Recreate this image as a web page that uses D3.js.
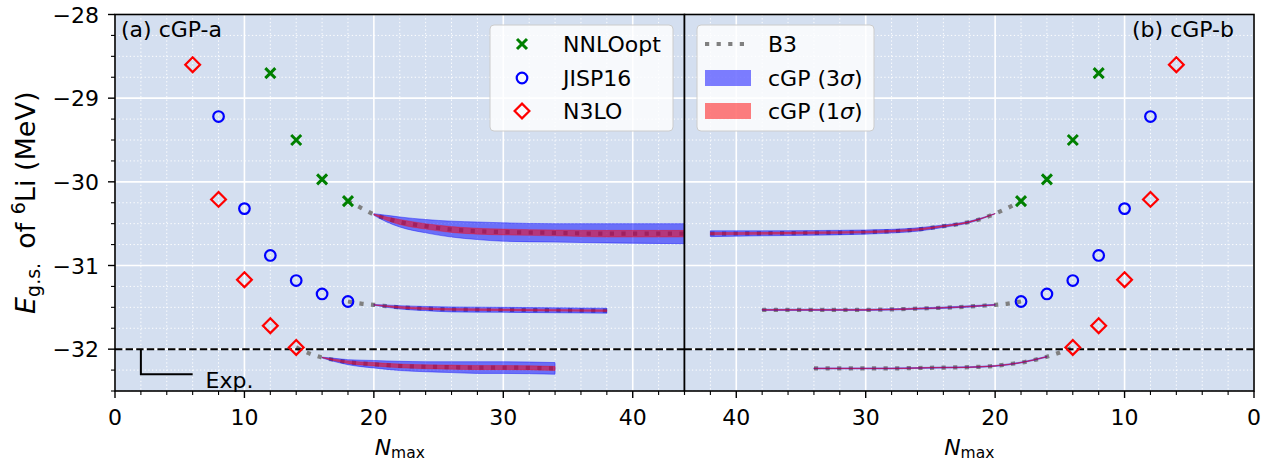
<!DOCTYPE html>
<html>
<head>
<meta charset="utf-8">
<style>
  body { margin: 0; background: #fff; }
  svg text { font-family: "DejaVu Sans", sans-serif; fill: #000; }
</style>
</head>
<body>
<div id="chart"></div>
<script src="https://d3js.org/d3.v7.min.js"></script>
<script>
// ---- data ----
// raw calculations (same in both panels)
const nnloN = [12, 14, 16, 18];
const nnloE = [-28.70, -29.50, -29.97, -30.23];
const jispN = [8, 10, 12, 14, 16, 18];
const jispE = [-29.22, -30.32, -30.88, -31.18, -31.34, -31.43];
const n3loN = [6, 8, 10, 12, 14];
const n3loE = [-28.60, -30.21, -31.17, -31.72, -31.98];

// (a) cGP-a : B3 extrapolation curves
const aNnloB3N = [18, 19, 20, 21, 22, 24, 26, 28, 30, 34, 38, 44];
const aNnloB3E = [-30.23, -30.31, -30.39, -30.44, -30.48, -30.53, -30.57, -30.59, -30.60, -30.61, -30.62, -30.62];
const aJispB3N = [18, 19, 20, 22, 24, 26, 30, 34, 38];
const aJispB3E = [-31.43, -31.455, -31.47, -31.50, -31.515, -31.525, -31.53, -31.535, -31.54];
const aN3loB3N = [14, 15, 16, 17, 18, 20, 22, 24, 26, 28, 30, 34];
const aN3loB3E = [-31.98, -32.05, -32.10, -32.13, -32.155, -32.18, -32.20, -32.21, -32.215, -32.22, -32.22, -32.23];

// (a) cGP-a : bands (lo/hi for 3 sigma and 1 sigma)
const aNnloBandN = [20, 21, 22, 24, 26, 28, 30, 34, 38, 44];
const aNnloHi3 = [-30.38, -30.40, -30.42, -30.45, -30.47, -30.48, -30.49, -30.50, -30.50, -30.50];
const aNnloLo3 = [-30.40, -30.48, -30.54, -30.61, -30.66, -30.69, -30.71, -30.72, -30.73, -30.74];
const aNnloHi1 = [-30.385, -30.42, -30.45, -30.50, -30.535, -30.555, -30.565, -30.575, -30.58, -30.58];
const aNnloLo1 = [-30.395, -30.46, -30.51, -30.565, -30.605, -30.625, -30.635, -30.645, -30.66, -30.66];

const aJispBandN = [20, 22, 24, 26, 30, 34, 38];
const aJispHi3 = [-31.465, -31.48, -31.49, -31.495, -31.50, -31.505, -31.51];
const aJispLo3 = [-31.475, -31.52, -31.54, -31.555, -31.56, -31.565, -31.57];
const aJispHi1 = [-31.468, -31.49, -31.505, -31.515, -31.52, -31.525, -31.53];
const aJispLo1 = [-31.472, -31.51, -31.525, -31.535, -31.54, -31.545, -31.55];

const aN3loBandN = [16, 17, 18, 20, 22, 24, 26, 28, 30, 34];
const aN3loHi3 = [-32.095, -32.11, -32.125, -32.135, -32.145, -32.15, -32.15, -32.15, -32.15, -32.16];
const aN3loLo3 = [-32.105, -32.15, -32.185, -32.225, -32.255, -32.27, -32.28, -32.29, -32.29, -32.30];
const aN3loHi1 = [-32.098, -32.12, -32.14, -32.16, -32.178, -32.187, -32.19, -32.195, -32.195, -32.205];
const aN3loLo1 = [-32.102, -32.14, -32.17, -32.20, -32.222, -32.233, -32.24, -32.245, -32.245, -32.255];

// (b) cGP-b : B3 curves
const bNnloB3N = [18, 19, 20, 21, 22, 23, 24, 26, 28, 30, 34, 38, 42];
const bNnloB3E = [-30.23, -30.31, -30.38, -30.44, -30.48, -30.51, -30.53, -30.57, -30.59, -30.60, -30.61, -30.615, -30.62];
const bJispB3N = [18, 19, 20, 22, 24, 26, 28, 30, 34, 38];
const bJispB3E = [-31.43, -31.455, -31.47, -31.49, -31.505, -31.515, -31.525, -31.53, -31.53, -31.53];
const bN3loB3N = [14, 15, 16, 17, 18, 19, 20, 22, 24, 26, 28, 30, 34];
const bN3loB3E = [-31.98, -32.04, -32.09, -32.13, -32.16, -32.18, -32.20, -32.215, -32.22, -32.225, -32.23, -32.23, -32.23];

// (b) cGP-b : bands
const bNnloBandN = [20, 22, 24, 26, 28, 30, 34, 38, 42];
const bNnloHi3 = [-30.378, -30.47, -30.515, -30.55, -30.568, -30.575, -30.582, -30.585, -30.585];
const bNnloLo3 = [-30.382, -30.49, -30.545, -30.59, -30.612, -30.625, -30.638, -30.645, -30.655];
const bNnloHi1 = [-30.379, -30.475, -30.523, -30.56, -30.58, -30.59, -30.598, -30.603, -30.607];
const bNnloLo1 = [-30.381, -30.485, -30.537, -30.58, -30.60, -30.61, -30.622, -30.627, -30.633];

const bJispBandN = [20, 22, 24, 26, 28, 30, 34, 38];
const bJispHi3 = [-31.464, -31.482, -31.497, -31.507, -31.517, -31.522, -31.522, -31.522];
const bJispLo3 = [-31.476, -31.498, -31.513, -31.523, -31.533, -31.538, -31.538, -31.538];
const bJispHi1 = [-31.468, -31.486, -31.501, -31.511, -31.521, -31.526, -31.526, -31.526];
const bJispLo1 = [-31.472, -31.494, -31.509, -31.519, -31.529, -31.534, -31.534, -31.534];

const bN3loBandN = [16, 18, 20, 22, 24, 26, 28, 30, 34];
const bN3loHi3 = [-32.084, -32.154, -32.194, -32.209, -32.214, -32.219, -32.224, -32.224, -32.224];
const bN3loLo3 = [-32.096, -32.166, -32.206, -32.221, -32.226, -32.231, -32.236, -32.236, -32.236];
const bN3loHi1 = [-32.087, -32.157, -32.197, -32.212, -32.217, -32.222, -32.227, -32.227, -32.227];
const bN3loLo1 = [-32.093, -32.163, -32.203, -32.218, -32.223, -32.228, -32.233, -32.233, -32.233];

const expE = -32.0;  // experimental value
const xTicks = [0, 10, 20, 30, 40];
const yTicks = [-28, -29, -30, -31, -32];

// ---- layout ----
const W = 1286, H = 463;
const plotTop = 14.5, plotBot = 391;
const aLeft = 115, mid = 684.5, bRight = 1254;
const xMax = 44;
const fs = 22;  // base font size

const svg = d3.select("#chart").append("svg")
  .attr("width", W).attr("height", H);

const y = d3.scaleLinear().domain([-32.5, -28]).range([plotBot, plotTop]);
const xa = d3.scaleLinear().domain([0, xMax]).range([aLeft, mid]);
const xb = d3.scaleLinear().domain([xMax, 0]).range([mid, bRight]);

const bg = "#d4dff0";
const zip = (ns, es) => ns.map((n, i) => [n, es[i]]);

// marker shapes
const crossPath = "M-5,-5L5,5M-5,5L5,-5";
const diamondPath = "M0,-7.4L7.4,0L0,7.4L-7.4,0Z";
const circleR = 5.3;

function panel(x, id) {
  const g = svg.append("g");
  const [x0, x1] = x.range();
  const l = Math.min(x0, x1), r = Math.max(x0, x1);

  svg.append("clipPath").attr("id", id)
    .append("rect").attr("x", l).attr("y", plotTop).attr("width", r - l).attr("height", plotBot - plotTop);

  g.append("rect").attr("x", l).attr("y", plotTop).attr("width", r - l).attr("height", plotBot - plotTop)
    .attr("fill", bg);

  // minor grid
  const xMinor = d3.range(0, xMax + 0.1, 2).filter(v => v % 10 !== 0);
  const yMinor = d3.range(-32.5, -27.9, 0.25).filter(v => Math.abs(v - Math.round(v)) > 0.01);
  g.append("g").selectAll("line").data(xMinor).join("line")
    .attr("x1", d => x(d)).attr("x2", d => x(d)).attr("y1", plotTop).attr("y2", plotBot)
    .attr("stroke", "#fff").attr("stroke-width", 1).attr("stroke-dasharray", "1.3,2.4");
  g.append("g").selectAll("line").data(yMinor).join("line")
    .attr("y1", d => y(d)).attr("y2", d => y(d)).attr("x1", l).attr("x2", r)
    .attr("stroke", "#fff").attr("stroke-width", 1).attr("stroke-dasharray", "1.3,2.4");

  // major grid
  g.append("g").selectAll("line").data(xTicks).join("line")
    .attr("x1", d => x(d)).attr("x2", d => x(d)).attr("y1", plotTop).attr("y2", plotBot)
    .attr("stroke", "#fff").attr("stroke-width", 1.6);
  g.append("g").selectAll("line").data(yTicks).join("line")
    .attr("y1", d => y(d)).attr("y2", d => y(d)).attr("x1", l).attr("x2", r)
    .attr("stroke", "#fff").attr("stroke-width", 1.6);

  const plot = g.append("g").attr("clip-path", `url(#${id})`);

  // x ticks
  const ax = g.append("g");
  ax.selectAll(".maj").data(xTicks).join("line")
    .attr("x1", d => x(d)).attr("x2", d => x(d)).attr("y1", plotBot).attr("y2", plotBot + 7)
    .attr("stroke", "#000").attr("stroke-width", 1.4);
  ax.selectAll(".min").data(xMinor).join("line")
    .attr("x1", d => x(d)).attr("x2", d => x(d)).attr("y1", plotBot).attr("y2", plotBot + 4)
    .attr("stroke", "#000").attr("stroke-width", 1.1);
  ax.selectAll("text").data(xTicks).join("text")
    .attr("x", d => x(d)).attr("y", 425).attr("text-anchor", "middle")
    .attr("font-size", fs).text(d => d);

  // x label
  const xl = g.append("text").attr("x", (l + r) / 2).attr("y", 455)
    .attr("text-anchor", "middle").attr("font-size", fs);
  xl.append("tspan").attr("font-style", "italic").text("N");
  xl.append("tspan").attr("font-size", 15.5).attr("dy", 3).text("max");

  return { g, plot, l, r, yMinor };
}

function drawModel(p, x, b3, bands) {
  const line = d3.line()
    .x(d => x(d[0])).y(d => y(d[1]))
    .curve(d3.curveMonotoneX);
  const area = d3.area()
    .x(d => x(d[0])).y0(d => y(d[1])).y1(d => y(d[2]))
    .curve(d3.curveMonotoneX);
  const byPx = (a, b2) => x(a[0]) - x(b2[0]);

  // B3 curve (drawn below the bands, shows through them)
  p.plot.append("path").datum(b3.slice().sort(byPx))
    .attr("d", line).attr("fill", "none")
    .attr("stroke", "#808080").attr("stroke-width", 4.2)
    .attr("stroke-dasharray", "4.2,7.4");

  const s3 = bands.n.map((n, i) => [n, bands.lo3[i], bands.hi3[i]]).sort(byPx);
  const s1 = bands.n.map((n, i) => [n, bands.lo1[i], bands.hi1[i]]).sort(byPx);
  p.plot.append("path").datum(s3).attr("d", area)
    .attr("fill", "blue").attr("fill-opacity", 0.5)
    .attr("stroke", "blue").attr("stroke-opacity", 0.5).attr("stroke-width", 0.8);
  p.plot.append("path").datum(s1).attr("d", area)
    .attr("fill", "red").attr("fill-opacity", 0.5)
    .attr("stroke", "red").attr("stroke-opacity", 0.5).attr("stroke-width", 0.6);
}

function drawPoints(p, x) {
  // dashed experimental line
  p.plot.append("line")
    .attr("x1", p.l).attr("x2", p.r).attr("y1", y(expE)).attr("y2", y(expE))
    .attr("stroke", "#000").attr("stroke-width", 2).attr("stroke-dasharray", "7.4,3.2");

  const pts = p.plot.append("g");
  // N3LO diamonds
  pts.selectAll(".d").data(zip(n3loN, n3loE)).join("path")
    .attr("d", diamondPath)
    .attr("transform", d => `translate(${x(d[0])},${y(d[1])})`)
    .attr("fill", "none").attr("stroke", "red").attr("stroke-width", 2.2);
  // JISP16 circles
  pts.selectAll(".c").data(zip(jispN, jispE)).join("circle")
    .attr("cx", d => x(d[0])).attr("cy", d => y(d[1])).attr("r", circleR)
    .attr("fill", "none").attr("stroke", "blue").attr("stroke-width", 2.2);
  // NNLOopt crosses
  pts.selectAll(".x").data(zip(nnloN, nnloE)).join("path")
    .attr("d", crossPath)
    .attr("transform", d => `translate(${x(d[0])},${y(d[1])})`)
    .attr("fill", "none").attr("stroke", "green").attr("stroke-width", 3);
}

function frame(p) {
  p.g.append("rect").attr("x", p.l).attr("y", plotTop).attr("width", p.r - p.l).attr("height", plotBot - plotTop)
    .attr("fill", "none").attr("stroke", "#000").attr("stroke-width", 1.6);
}

// ---- panel (a) ----
const pa = panel(xa, "clipA");
drawModel(pa, xa, zip(aNnloB3N, aNnloB3E),
  { n: aNnloBandN, lo3: aNnloLo3, hi3: aNnloHi3, lo1: aNnloLo1, hi1: aNnloHi1 });
drawModel(pa, xa, zip(aJispB3N, aJispB3E),
  { n: aJispBandN, lo3: aJispLo3, hi3: aJispHi3, lo1: aJispLo1, hi1: aJispHi1 });
drawModel(pa, xa, zip(aN3loB3N, aN3loB3E),
  { n: aN3loBandN, lo3: aN3loLo3, hi3: aN3loHi3, lo1: aN3loLo1, hi1: aN3loHi1 });
drawPoints(pa, xa);

// Exp. marker
pa.g.append("path")
  .attr("d", `M${xa(2)},${y(-32)}L${xa(2)},${y(-32.3)}L${xa(6)},${y(-32.3)}`)
  .attr("fill", "none").attr("stroke", "#000").attr("stroke-width", 2);
pa.g.append("text").attr("x", xa(7)).attr("y", y(-32.46))
  .attr("font-size", fs).text("Exp.");
pa.g.append("text").attr("x", 121).attr("y", 37).attr("font-size", fs).text("(a) cGP-a");

// y ticks (left panel only)
const ay = svg.append("g");
ay.selectAll(".maj").data(yTicks).join("line")
  .attr("x1", aLeft - 7).attr("x2", aLeft).attr("y1", d => y(d)).attr("y2", d => y(d))
  .attr("stroke", "#000").attr("stroke-width", 1.4);
ay.selectAll(".min").data(pa.yMinor).join("line")
  .attr("x1", aLeft - 4).attr("x2", aLeft).attr("y1", d => y(d)).attr("y2", d => y(d))
  .attr("stroke", "#000").attr("stroke-width", 1.1);
ay.selectAll("text").data(yTicks).join("text")
  .attr("x", 99).attr("y", d => y(d) + 8).attr("text-anchor", "end")
  .attr("font-size", fs).text(d => "\u2212" + Math.abs(d));

// y label
const yl = svg.append("text").attr("transform", `translate(35,${(plotTop + plotBot) / 2}) rotate(-90)`)
  .attr("text-anchor", "middle").attr("font-size", 27);
yl.append("tspan").attr("font-style", "italic").text("E");
yl.append("tspan").attr("font-size", 19).attr("dy", 5).text("g.s.");
yl.append("tspan").attr("dy", -5).text("\u2009 of ");
yl.append("tspan").attr("font-size", 19).attr("dy", -10).text("6");
yl.append("tspan").attr("dy", 10).text("Li (MeV)");

// ---- panel (b) ----
const pb = panel(xb, "clipB");
drawModel(pb, xb, zip(bNnloB3N, bNnloB3E),
  { n: bNnloBandN, lo3: bNnloLo3, hi3: bNnloHi3, lo1: bNnloLo1, hi1: bNnloHi1 });
drawModel(pb, xb, zip(bJispB3N, bJispB3E),
  { n: bJispBandN, lo3: bJispLo3, hi3: bJispHi3, lo1: bJispLo1, hi1: bJispHi1 });
drawModel(pb, xb, zip(bN3loB3N, bN3loB3E),
  { n: bN3loBandN, lo3: bN3loLo3, hi3: bN3loHi3, lo1: bN3loLo1, hi1: bN3loHi1 });
drawPoints(pb, xb);
pb.g.append("text").attr("x", 1234).attr("y", 37).attr("text-anchor", "end")
  .attr("font-size", fs).text("(b) cGP-b");

frame(pa);
frame(pb);

// ---- legends ----
function legendBox(x0, w) {
  svg.append("rect").attr("x", x0).attr("y", 25).attr("width", w).attr("height", 106)
    .attr("rx", 4).attr("fill", "#fff").attr("fill-opacity", 0.8)
    .attr("stroke", "#ccc").attr("stroke-width", 1);
}
const legRows = [44, 78, 111];

legendBox(490, 183);
const l1 = svg.append("g");
l1.append("path").attr("d", crossPath)
  .attr("transform", `translate(522,${legRows[0]})`)
  .attr("stroke", "green").attr("stroke-width", 3).attr("fill", "none");
l1.append("circle").attr("cx", 522).attr("cy", legRows[1]).attr("r", circleR)
  .attr("fill", "none").attr("stroke", "blue").attr("stroke-width", 2.2);
l1.append("path").attr("d", diamondPath)
  .attr("transform", `translate(522,${legRows[2]})`)
  .attr("fill", "none").attr("stroke", "red").attr("stroke-width", 2.2);
["NNLOopt", "JISP16", "N3LO"].forEach((t, i) => {
  l1.append("text").attr("x", 563).attr("y", legRows[i] + 8).attr("font-size", fs).text(t);
});

legendBox(697, 177);
const l2 = svg.append("g");
l2.append("line").attr("x1", 705).attr("x2", 750).attr("y1", legRows[0]).attr("y2", legRows[0])
  .attr("stroke", "#808080").attr("stroke-width", 4.2).attr("stroke-dasharray", "4.2,7.4");
l2.append("rect").attr("x", 705).attr("y", legRows[1] - 8).attr("width", 46).attr("height", 16)
  .attr("fill", "blue").attr("fill-opacity", 0.5);
l2.append("rect").attr("x", 705).attr("y", legRows[2] - 8).attr("width", 46).attr("height", 16)
  .attr("fill", "red").attr("fill-opacity", 0.5);
l2.append("text").attr("x", 768).attr("y", legRows[0] + 8).attr("font-size", fs).text("B3");
[["3", 1], ["1", 2]].forEach(([k, i]) => {
  const t = l2.append("text").attr("x", 768).attr("y", legRows[i] + 8).attr("font-size", fs);
  t.append("tspan").text(`cGP (${k}`);
  t.append("tspan").attr("font-style", "italic").text("\u03c3");
  t.append("tspan").text(")");
});
</script>
</body>
</html>
